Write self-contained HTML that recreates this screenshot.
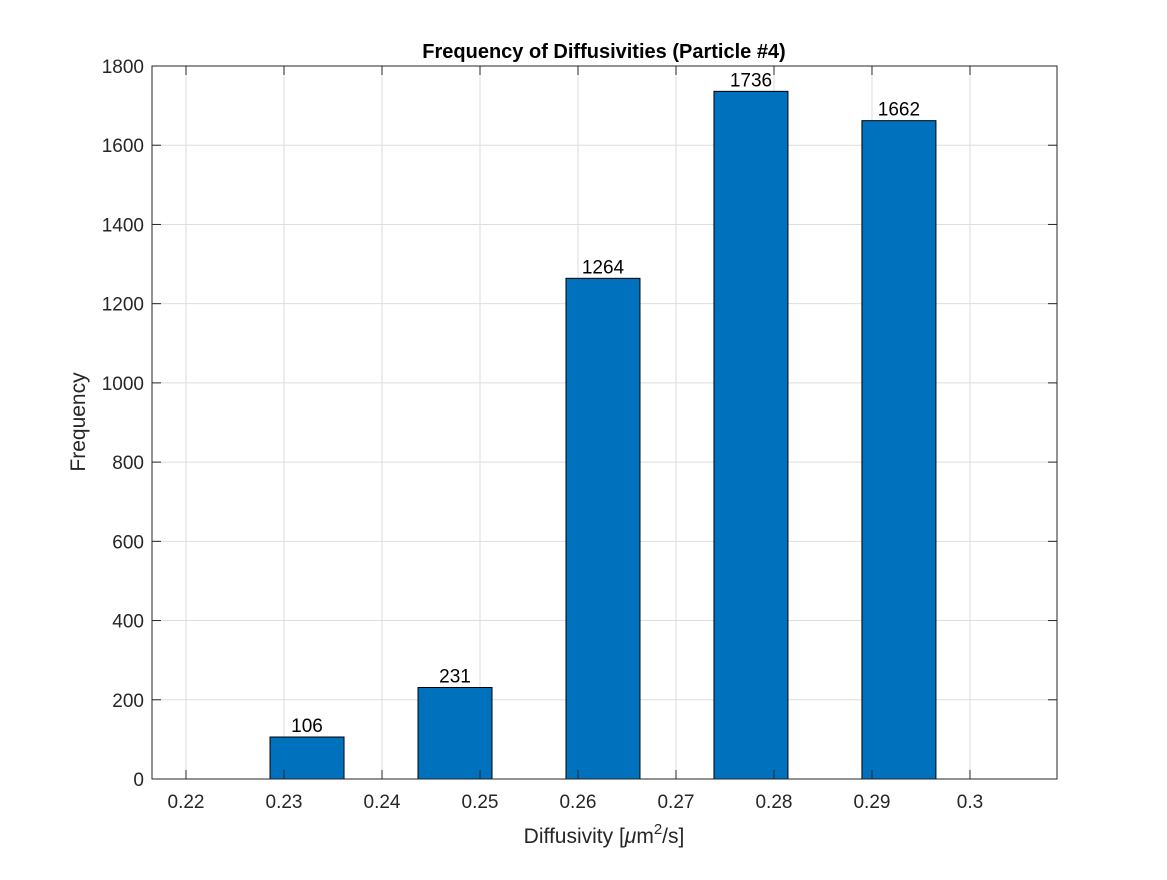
<!DOCTYPE html>
<html><head><meta charset="utf-8"><style>
body{margin:0;background:#fff;font-family:"Liberation Sans",Arial,sans-serif}
svg text{font-family:"Liberation Sans",Arial,sans-serif}
</style></head><body>
<svg id="chart" width="1167" height="875"></svg>
<script>
const binCenters=[0.23235,0.24745,0.26255,0.27765,0.29275];
const counts=[106,231,1264,1736,1662];
const xTicks=[0.22,0.23,0.24,0.25,0.26,0.27,0.28,0.29,0.3];
const xTickLabels=["0.22","0.23","0.24","0.25","0.26","0.27","0.28","0.29","0.3"];
const yTicks=[0,200,400,600,800,1000,1200,1400,1600,1800];
const barWidth=0.00755;
const L=152,R=1057,T=66,B=779,xmin=0.21653,xmax=0.30888,ymin=0,ymax=1800;
const xs=v=>L+(v-xmin)/(xmax-xmin)*(R-L);
const ys=v=>B-(v-ymin)/(ymax-ymin)*(B-T);
const svg=document.getElementById('chart');
const NS='http://www.w3.org/2000/svg';
function mk(tag,attrs,parent){const e=document.createElementNS(NS,tag);for(const k in attrs)e.setAttribute(k,attrs[k]);(parent||svg).appendChild(e);return e;}
let e=mk('rect',{x:L,y:T,width:R-L,height:B-T,fill:'#fff'});


xTicks.forEach((t,i)=>{const x=xs(t);
 let g=mk('line',{x1:x,x2:x,y1:T,y2:B,stroke:'#dedede','stroke-width':1});
 
 
});
yTicks.forEach(t=>{const y=ys(t);
 let g=mk('line',{x1:L,x2:R,y1:y,y2:y,stroke:'#dedede','stroke-width':1});
 
 
});
counts.forEach((c,i)=>{const x0=xs(binCenters[i]-barWidth/2),x1=xs(binCenters[i]+barWidth/2);
 let b=mk('rect',{x:x0,y:ys(c),width:x1-x0,height:ys(0)-ys(c),fill:'#0072bd',stroke:'#000','stroke-width':1});
 
 
 let t=mk('text',{x:(x0+x1)/2,y:ys(c)-5,'text-anchor':'middle','font-size':19,fill:'#000'});t.textContent=c;
 
 
});
e=mk('rect',{x:L,y:T,width:R-L,height:B-T,fill:'none',stroke:'#262626','stroke-width':1});


xTicks.forEach((t,i)=>{const x=xs(t);
 mk('line',{x1:x,x2:x,y1:B,y2:B-9,stroke:'#262626'});mk('line',{x1:x,x2:x,y1:T,y2:T+9,stroke:'#262626'});
 let l=mk('text',{x:x,y:B+29,'text-anchor':'middle','font-size':19,fill:'#262626'});l.textContent=xTickLabels[i];
 
 
});
yTicks.forEach(t=>{const y=ys(t);
 mk('line',{x1:L,x2:L+9,y1:y,y2:y,stroke:'#262626'});mk('line',{x1:R,x2:R-9,y1:y,y2:y,stroke:'#262626'});
 let l=mk('text',{x:L-8,y:y+7,'text-anchor':'end','font-size':19,fill:'#262626'});l.textContent=t;
 
 
});
</script>
<svg width="1167" height="875" style="position:absolute;left:0;top:0">
<text x="604" y="58" text-anchor="middle" font-size="20" font-weight="bold" fill="#000">Frequency of Diffusivities (Particle #4)</text>
<text x="604" y="843" text-anchor="middle" font-size="21" fill="#262626">Diffusivity [<tspan font-style="italic">μ</tspan>m<tspan dy="-9" font-size="15">2</tspan><tspan dy="9">/s]</tspan></text>
<text transform="translate(85,422) rotate(-90)" text-anchor="middle" font-size="21" fill="#262626">Frequency</text>
</svg>
</body></html>
